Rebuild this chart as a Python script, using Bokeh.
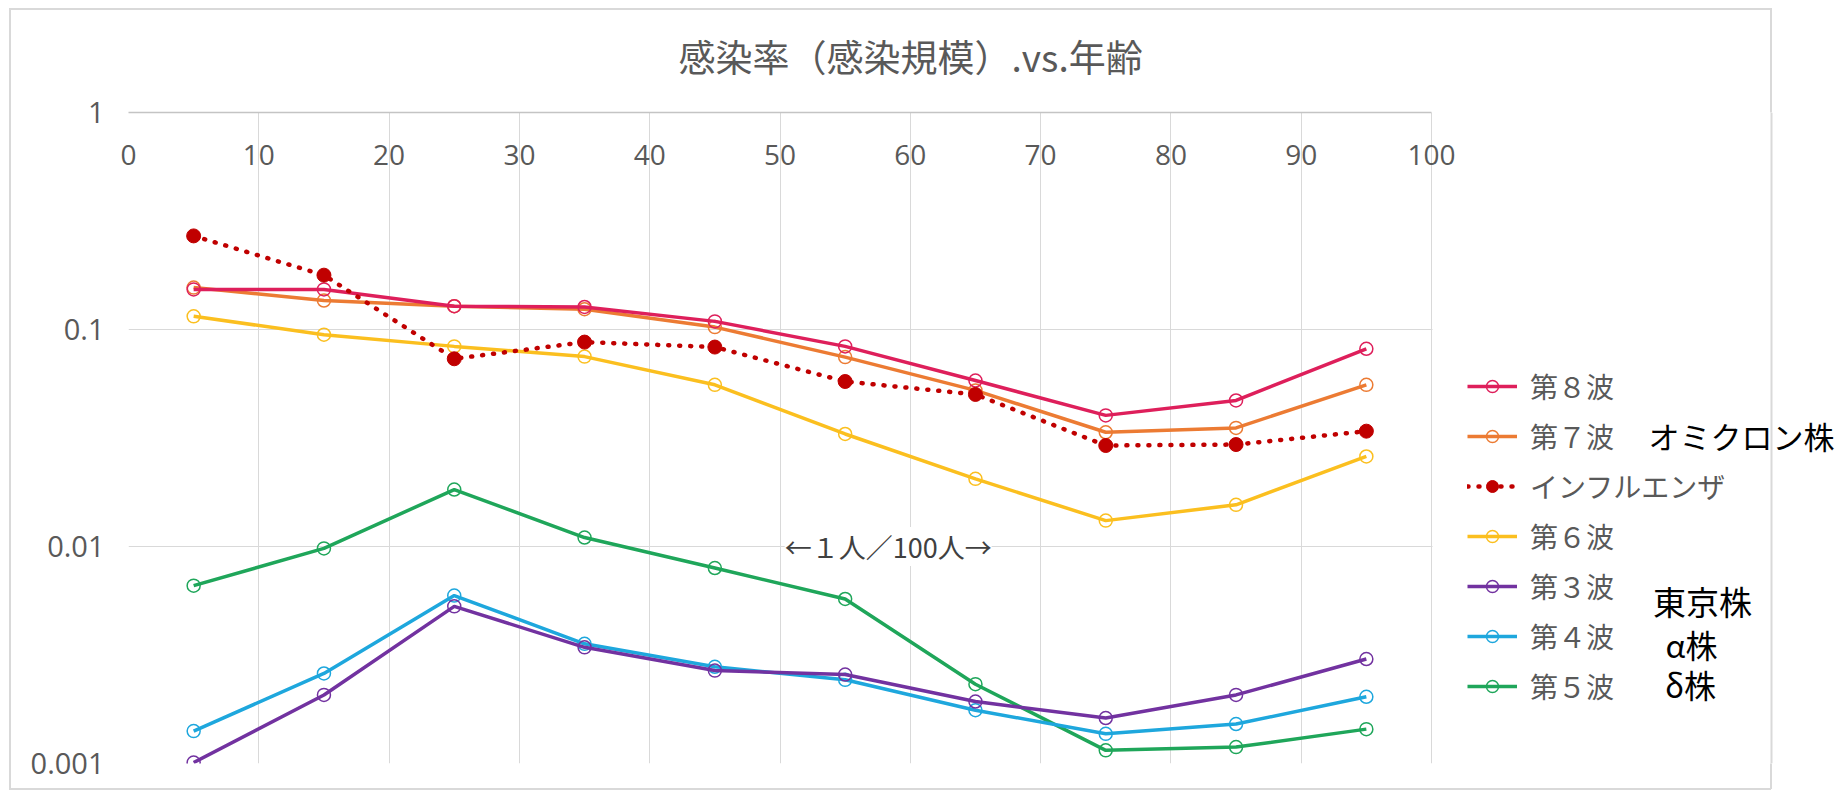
from bokeh.plotting import figure
from bokeh.models import Range1d, FixedTicker, Legend, LegendItem, Label, BoxAnnotation, Span
from bokeh.embed import file_html
from bokeh.resources import INLINE

# ---- data ----
ages = [5, 15, 25, 35, 45, 55, 65, 75, 85, 95]
wave8 = [0.153, 0.153, 0.128, 0.127, 0.109, 0.0836, 0.0582, 0.0402, 0.0471, 0.0815]
wave7 = [0.156, 0.136, 0.128, 0.124, 0.1026, 0.0746, 0.0524, 0.0336, 0.0352, 0.0556]
flu = [0.27, 0.178, 0.0733, 0.0875, 0.083, 0.0576, 0.0502, 0.0292, 0.0295, 0.034]
wave6 = [0.115, 0.0946, 0.0836, 0.075, 0.0556, 0.033, 0.0205, 0.01316, 0.01556, 0.026]
wave3 = [0.00101, 0.00207, 0.0053, 0.00343, 0.00268, 0.00257, 0.00193, 0.00162, 0.00207, 0.00303]
wave4 = [0.00141, 0.0026, 0.00594, 0.00356, 0.00279, 0.00243, 0.00176, 0.00137, 0.00152, 0.00203]
wave5 = [0.0066, 0.0098, 0.0183, 0.0110, 0.00796, 0.00573, 0.00232, 0.00115, 0.00119, 0.00144]

series_keys = ["w8", "w7", "flu", "w6", "w3", "w4", "w5"]
series_labels = ["第８波", "第７波", "インフルエンザ", "第６波", "第３波", "第４波", "第５波"]
x_ticks = [0, 10, 20, 30, 40, 50, 60, 70, 80, 90, 100]
y_ticks = [0.001, 0.01, 0.1, 1]
y_tick_labels = ["0.001", "0.01", "0.1", "1"]

title_text = "感染率（感染規模）.vs.年齢"
center_note = "←１人／100人→"
note_omicron = "オミクロン株"
note_tokyo = "東京株"
note_alpha = "α株"
note_delta = "δ株"

# ---- layout constants (canvas pixels) ----
W, H = 1835, 791
FL, FT = 128, 112          # frame left / top
PR = 1431                  # right edge of the plotting area (x = 100)
FB = 763                   # frame bottom (y = 0.001)
FW, FH = W - FL, FB - FT   # frame extends to the right edge of the canvas
XMAX = 100.0 * FW / (PR - FL)


def sx(cx):
    return cx - FL


def sy(cy):
    return FB - cy


GRAY = "#595959"
GRID = "#D9D9D9"
JP = "Noto Sans CJK JP"

p = figure(frame_width=FW, frame_height=FH,
           min_border_left=FL, min_border_right=0,
           min_border_top=FT, min_border_bottom=H - FB,
           x_range=Range1d(0, XMAX), y_range=Range1d(0.001, 1),
           y_axis_type="log", x_axis_location="above",
           output_backend="svg", toolbar_location=None)
p.background_fill_alpha = 0
p.border_fill_alpha = 0
p.outline_line_color = None
# outer chart-area border (drawn behind the transparent canvas)
bl = "linear-gradient(#D9D9D9,#D9D9D9)"
p.styles = {
    "background-color": "white",
    "background-image": ", ".join([bl] * 4),
    "background-position": "9px 8px, 9px 8px, 1770px 8px, 9px 788px",
    "background-size": "1762px 2px, 2px 781px, 2px 781px, 1762px 2px",
    "background-repeat": "no-repeat",
}

# x axis on top, labels inside the plot area
xa = p.xaxis[0]
xa.ticker = FixedTicker(ticks=x_ticks)
xa.bounds = (0, 100)
xa.major_tick_line_color = None
xa.minor_tick_line_color = None
xa.axis_line_color = "#C4C4C4"
xa.axis_line_width = 1.5
xa.major_label_standoff = -58
xa.major_label_text_font = "Open Sans"
xa.major_label_text_font_size = "28px"
xa.major_label_text_color = GRAY

ya = p.yaxis[0]
ya.ticker = FixedTicker(ticks=y_ticks)
ya.major_label_overrides = {t: lab for t, lab in zip(y_ticks, y_tick_labels)}
ya.major_tick_line_color = None
ya.minor_tick_line_color = None
ya.axis_line_color = None
ya.major_label_standoff = 18
ya.major_label_text_font = "Open Sans"
ya.major_label_text_font_size = "29px"
ya.major_label_text_color = GRAY

p.xgrid.grid_line_color = GRID
p.ygrid.grid_line_color = GRID
p.ygrid.minor_grid_line_color = None

colors = {
    "w8": "#DE1F5B",
    "w7": "#EC7B33",
    "flu": "#C00000",
    "w6": "#FBBF1F",
    "w3": "#7232A0",
    "w4": "#1EA7DD",
    "w5": "#1FA65A",
}
values = {"w8": wave8, "w7": wave7, "flu": flu, "w6": wave6,
          "w3": wave3, "w4": wave4, "w5": wave5}
labels = dict(zip(series_keys, series_labels))

# white area right of the plotting area (hides grid lines there), under the guides
p.add_layout(BoxAnnotation(left=sx(PR + 1), right=FW + 2, top=FH + 2, bottom=-2,
                           left_units="screen", right_units="screen",
                           top_units="screen", bottom_units="screen",
                           fill_color="white", fill_alpha=1, line_color=None,
                           level="underlay"))
p.add_layout(Span(location=sx(1771), location_units="screen", dimension="height",
                  line_color=GRID, line_width=2))

items = {}
draw_order = ["w5", "w4", "w3", "w6", "w7", "w8", "flu"]
for key in draw_order:
    c = colors[key]
    v = values[key]
    if key == "flu":
        rl = p.line(ages, v, line_color=c, line_width=4.5, line_dash="1 10", line_cap="round")
        rm = p.scatter(ages, v, marker="circle", size=14, fill_color=c, line_color=c)
    else:
        rl = p.line(ages, v, line_color=c, line_width=3.5)
        rm = p.scatter(ages, v, marker="circle", size=13, fill_color=None,
                       line_color=c, line_width=1.5)
    items[key] = LegendItem(label=labels[key], renderers=[rl, rm])

legend = Legend(items=[items[k] for k in series_keys],
                location=(sx(1467), sy(706)),
                orientation="vertical",
                glyph_width=50, glyph_height=30, label_height=30,
                label_standoff=13, spacing=10, padding=0, margin=0,
                border_line_color=None, background_fill_alpha=0,
                label_text_font=JP, label_text_font_size="28px",
                label_text_color=GRAY)
p.add_layout(legend, "center")

# title (above panel)
p.title.text = title_text
p.title.align = "left"
p.title.offset = 678 - FL
p.title.vertical_align = "top"
p.title.standoff = 56
p.title.text_font = JP
p.title.text_font_size = "37px"
p.title.text_font_style = "normal"
p.title.text_color = GRAY

# center note
p.add_layout(Label(x=58.3, y=0.01, text=center_note,
                   text_align="center", text_baseline="middle",
                   text_font=JP, text_font_size="27px", text_color="#404040",
                   background_fill_color="white"))

# right-hand notes
p.add_layout(Label(x=sx(1648), y=sy(435), x_units="screen", y_units="screen",
                   text=note_omicron, text_align="left", text_baseline="middle",
                   text_font=JP, text_font_size="31px", text_color="black"))
for txt, cx, cy, fs in [(note_tokyo, 1702, 600, "33px"), (note_alpha, 1691, 643, "32px"),
                        (note_delta, 1690, 683, "32px")]:
    p.add_layout(Label(x=sx(cx), y=sy(cy), x_units="screen", y_units="screen",
                       text=txt, text_align="center", text_baseline="middle",
                       text_font=JP, text_font_size=fs, text_color="black"))

open("out.html", "w").write(file_html(p, INLINE))
